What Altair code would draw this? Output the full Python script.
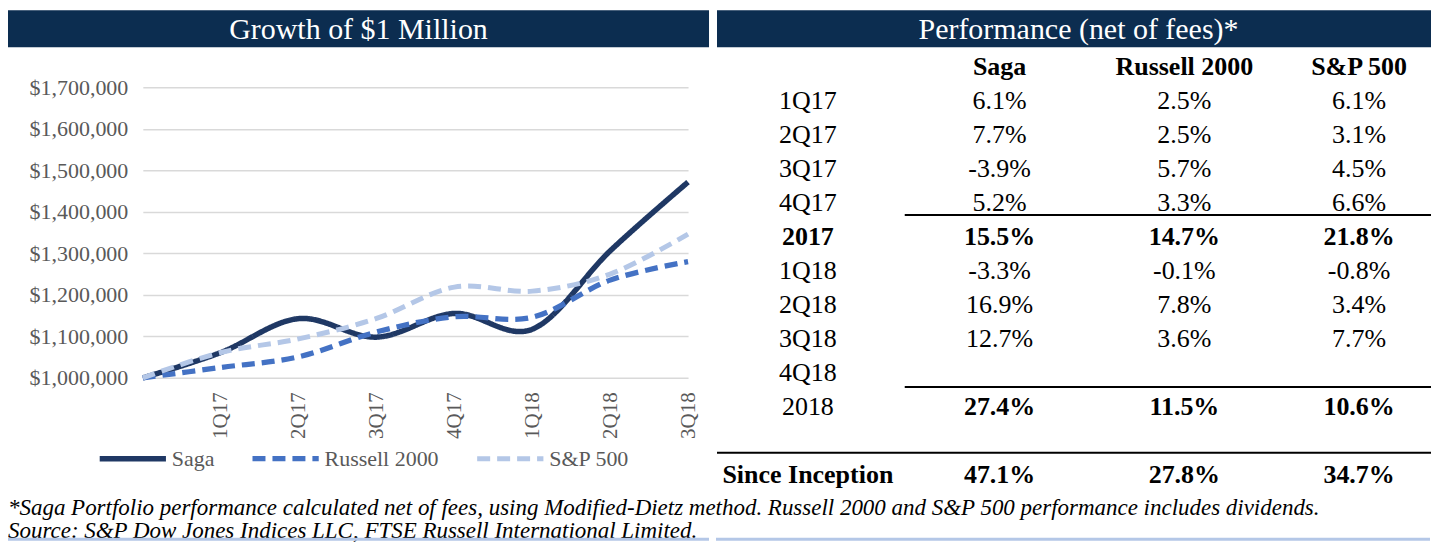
import altair as alt
import pandas as pd

# ---------------- data ----------------
quarters = ["Inception", "1Q17", "2Q17", "3Q17", "4Q17", "1Q18", "2Q18", "3Q18"]
saga_growth = [1000000, 1061000, 1142700, 1098100, 1155200, 1117100, 1305900, 1471700]
russell_growth = [1000000, 1025000, 1050600, 1110500, 1147200, 1146000, 1235400, 1279900]
sp500_growth = [1000000, 1061000, 1093900, 1143100, 1218600, 1208900, 1250000, 1346300]
series_names = ["Saga", "Russell 2000", "S&P 500"]
y_ticks = [1000000, 1100000, 1200000, 1300000, 1400000, 1500000, 1600000, 1700000]

table_columns = ["", "Saga", "Russell 2000", "S&P 500"]
table_rows = ["1Q17", "2Q17", "3Q17", "4Q17", "2017", "1Q18", "2Q18", "3Q18",
              "4Q18", "2018", "", "Since Inception"]
saga_perf = ["6.1%", "7.7%", "-3.9%", "5.2%", "15.5%", "-3.3%", "16.9%", "12.7%",
             "", "27.4%", "", "47.1%"]
russell_perf = ["2.5%", "2.5%", "5.7%", "3.3%", "14.7%", "-0.1%", "7.8%", "3.6%",
                "", "11.5%", "", "27.8%"]
sp500_perf = ["6.1%", "3.1%", "4.5%", "6.6%", "21.8%", "-0.8%", "3.4%", "7.7%",
              "", "10.6%", "", "34.7%"]

left_title = "Growth of $1 Million"
right_title = "Performance (net of fees)*"
footnote_1 = ("*Saga Portfolio performance calculated net of fees, using Modified-Dietz method. "
              "Russell 2000 and S&P 500 performance includes dividends.")
footnote_2 = "Source: S&P Dow Jones Indices LLC, FTSE Russell International Limited."

# ---------------- styles ----------------
SERIF = "Liberation Serif"
NAVY = "#0C2D50"
LIGHT = "#B4C7E7"
GRAY = "#595959"

# ---------------- line chart ----------------
rows = []
for name, vals in zip(series_names, [saga_growth, russell_growth, sp500_growth]):
    for q, v in zip(quarters, vals):
        rows.append({"Quarter": q, "Value": v, "Series": name})
growth_df = pd.DataFrame(rows)

legend_kw = dict(
    title=None, orient="none", legendX=-46, legendY=413, direction="horizontal",
    symbolType="stroke", symbolSize=4400, symbolStrokeWidth=6,
    labelFont=SERIF, labelFontSize=22, labelColor=GRAY, labelOffset=3,
    columnPadding=27,
)

line_chart = alt.Chart(growth_df).mark_line(interpolate="cardinal").encode(
    x=alt.X("Quarter:N", sort=quarters,
            scale=alt.Scale(type="point", padding=0),
            axis=alt.Axis(title=None, values=quarters[1:], labelAngle=-90, ticks=False,
                          domain=False, grid=False, labelPadding=14, labelFont=SERIF,
                          labelFontSize=21, labelColor=GRAY)),
    y=alt.Y("Value:Q", scale=alt.Scale(domain=[y_ticks[0], y_ticks[-1]], nice=False, zero=False),
            axis=alt.Axis(title=None, values=y_ticks, format="$,.0f", ticks=False, domain=False,
                          grid=True, gridColor="#D9D9D9", gridWidth=1.5, labelPadding=15,
                          minExtent=135, labelFont=SERIF, labelFontSize=22, labelColor=GRAY)),
    color=alt.Color("Series:N", sort=series_names,
                    scale=alt.Scale(domain=series_names, range=["#1F3864", "#4472C4", LIGHT]),
                    legend=alt.Legend(**legend_kw)),
    strokeDash=alt.StrokeDash("Series:N", sort=series_names,
                              scale=alt.Scale(domain=series_names, range=[[1, 0], [13, 7], [13, 7]]),
                              legend=alt.Legend(**legend_kw)),
    strokeWidth=alt.StrokeWidth("Series:N", sort=series_names,
                                scale=alt.Scale(domain=series_names, range=[5.5, 5, 5]),
                                legend=None),
).properties(width=546, height=291)

# ---------------- header bars ----------------
left_header = alt.layer(
    alt.Chart(pd.DataFrame({"t": [left_title]})).mark_rect(color=NAVY).encode(
        x=alt.value(-135), x2=alt.value(567), y=alt.value(0), y2=alt.value(37)),
    alt.Chart(pd.DataFrame({"t": [left_title]})).mark_text(
        font=SERIF, fontSize=30, color="white", align="center", baseline="middle").encode(
        x=alt.value(216), y=alt.value(20), text="t:N"),
).properties(width=546, height=37)

right_header = alt.layer(
    alt.Chart(pd.DataFrame({"t": [right_title]})).mark_rect(color=NAVY).encode(
        x=alt.value(0), x2=alt.value(715), y=alt.value(0), y2=alt.value(37)),
    alt.Chart(pd.DataFrame({"t": [right_title]})).mark_text(
        font=SERIF, fontSize=30, color="white", align="center", baseline="middle").encode(
        x=alt.value(362), y=alt.value(20), text="t:N"),
).properties(width=715, height=37)

# ---------------- table ----------------
cells = []
for ci, c in enumerate(table_columns):
    if c:
        cells.append({"row": "header", "rowidx": 0, "colidx": ci, "text": c})
for ri, r in enumerate(table_rows):
    cells.append({"row": r, "rowidx": ri + 1, "colidx": 0, "text": r})
    for ci, col in enumerate([saga_perf, russell_perf, sp500_perf]):
        cells.append({"row": r, "rowidx": ri + 1, "colidx": ci + 1, "text": col[ri]})
table_df = pd.DataFrame(cells)

x_tab = alt.X("colidx:Q", scale=alt.Scale(domain=[0, 1, 2, 3], range=[91, 283, 468, 643]), axis=None)
y_tab = alt.Y("rowidx:Q", scale=alt.Scale(domain=[0, 12], range=[0, 408]), axis=None)

bold_test = ("datum.row == 'header' || datum.row == '2017' || datum.row == 'Since Inception' || "
             "(datum.row == '2018' && datum.colidx > 0)")

base_tab = alt.Chart(table_df)
tab_bold = base_tab.transform_filter(bold_test).mark_text(
    font=SERIF, fontSize=26, fontWeight="bold", color="black", align="center", baseline="middle"
).encode(x=x_tab, y=y_tab, text="text:N")
tab_reg = base_tab.transform_filter("!(" + bold_test + ")").mark_text(
    font=SERIF, fontSize=26, color="black", align="center", baseline="middle"
).encode(x=x_tab, y=y_tab, text="text:N")

one = pd.DataFrame({"k": [0]})
rule_1 = alt.Chart(one).mark_rule(color="black", strokeWidth=2).encode(
    y=alt.datum(4.35), x=alt.value(188), x2=alt.value(715))
rule_2 = alt.Chart(one).mark_rule(color="black", strokeWidth=2).encode(
    y=alt.datum(9.42), x=alt.value(188), x2=alt.value(715))
rule_3 = alt.Chart(one).mark_rule(color="black", strokeWidth=2).encode(
    y=alt.datum(11.35), x=alt.value(0), x2=alt.value(715))

table = alt.layer(tab_bold, tab_reg, rule_1, rule_2, rule_3).properties(width=715, height=420)

# ---------------- footer ----------------
# the footer is aligned on the line chart's plot origin, which sits 135px in from the left
foot_df = pd.DataFrame({"t": [footnote_1, footnote_2], "line": [0, 1]})
footer = alt.layer(
    alt.Chart(foot_df).mark_text(font=SERIF, fontSize=23, fontStyle="italic", color="black",
                                 align="left", baseline="middle").encode(
        x=alt.value(-135),
        y=alt.Y("line:Q", scale=alt.Scale(domain=[0, 1], range=[16, 39]), axis=None),
        text="t:N"),
    alt.Chart(one).mark_rect(color=LIGHT).encode(
        x=alt.value(-135), x2=alt.value(567), y=alt.value(46), y2=alt.value(49)),
    alt.Chart(one).mark_rect(color=LIGHT).encode(
        x=alt.value(574), x2=alt.value(1289), y=alt.value(46), y2=alt.value(49)),
).properties(width=1289, height=49)

left_col = alt.vconcat(left_header, line_chart, spacing=29)
right_col = alt.vconcat(right_header, table, spacing=7)

chart = alt.vconcat(
    alt.hconcat(left_col, right_col, spacing=7),
    footer,
    spacing=4,
).properties(
    padding={"left": 0, "top": 2, "right": 0, "bottom": 0},
    background="white",
).configure_view(stroke=None)

chart.save("out.html", embed_options={"renderer": "svg", "actions": False})
